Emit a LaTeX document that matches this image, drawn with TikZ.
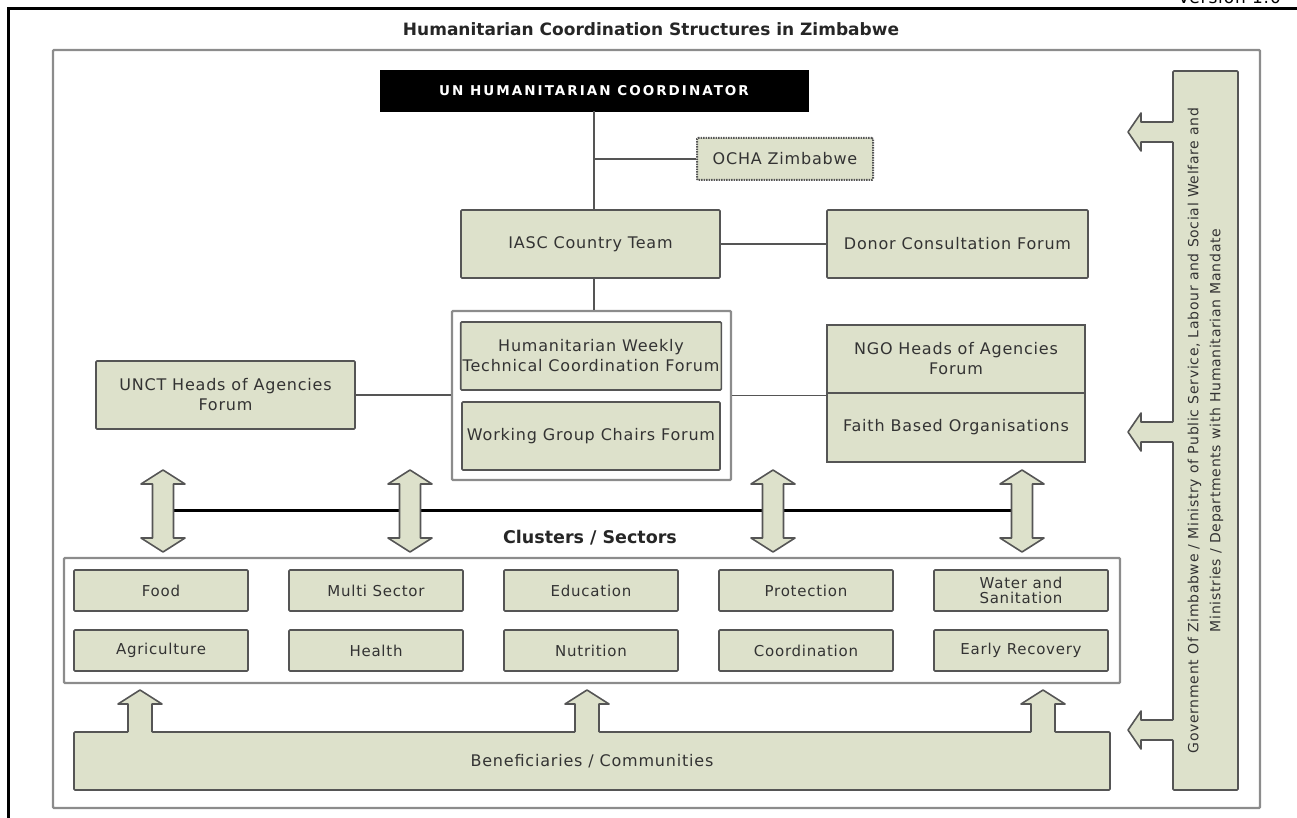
\documentclass[tikz,border=0pt]{standalone}
\usepackage{fontspec}
\setmainfont{DejaVu Sans}
\newfontfamily\boxfont[LetterSpace=5]{DejaVu Sans}
\newfontfamily\capsfont[LetterSpace=15]{DejaVu Sans}
\definecolor{clusterfill}{RGB}{221,225,203}
\definecolor{edgegray}{RGB}{85,85,85}
\definecolor{framegray}{RGB}{140,140,140}
\tikzset{
  orgbox/.style={draw=edgegray, line width=1.6pt, fill=clusterfill, rounded corners=1pt,
    align=center, inner sep=2pt, text=black!80, font={\boxfont\fontsize{16}{20}\selectfont}},
  sectorbox/.style={orgbox, minimum width=174pt, minimum height=41pt, font={\boxfont\fontsize{15}{15}\selectfont}},
  groupframe/.style={draw=framegray, line width=2.2pt, rounded corners=1pt},
  link/.style={draw=edgegray, line width=1.8pt},
  blockarrow/.style={draw=edgegray, line width=1.6pt, fill=clusterfill, line join=round}
}
\begin{document}
\begin{tikzpicture}[x=1pt,y=-1pt]
\useasboundingbox (0,0) rectangle (1297,818);

% page frame and heading
\draw[line width=3pt] (8,822) -- (8,9) -- (1300,9);
\node[anchor=base west, inner sep=0pt, font={\boxfont\fontsize{17}{20}\selectfont}] (version) at (1178,4) {Version 1.0};
\node[font={\bfseries\fontsize{17}{20}\selectfont}, text=black!85] (title) at (651,29) {Humanitarian Coordination Structures in Zimbabwe};
\draw[groupframe] (53,50) rectangle (1260,808);

% top of the structure
\node[fill=black, draw=black, minimum width=428pt, minimum height=41pt, text=white,
  font={\capsfont\bfseries\fontsize{13.5}{16}\selectfont}] (uhc) at (594,90.5) {UN HUMANITARIAN COORDINATOR};
\node[orgbox, draw=edgegray, dash pattern=on 1.5pt off 1pt, line width=2pt,
  minimum width=176pt, minimum height=42pt] (ocha) at (785,159) {OCHA Zimbabwe};
\node[orgbox, minimum width=259pt, minimum height=68pt] (iasc) at (590.5,244) {IASC Country Team};
\node[orgbox, minimum width=261pt, minimum height=68pt] (donor) at (957.5,244) {Donor Consultation Forum};

% forums
\node[groupframe, fill=white, minimum width=279pt, minimum height=169pt] (grp) at (591.5,395.5) {};
\node[orgbox, minimum width=258pt, minimum height=68pt] (hwtc) at (591,356) {Humanitarian Weekly\\Technical Coordination Forum};
\node[orgbox, minimum width=258pt, minimum height=68pt] (wgcf) at (591,436) {Working Group Chairs Forum};
\node[orgbox, minimum width=259pt, minimum height=68pt] (unct) at (225.5,395) {UNCT Heads of Agencies\\Forum};
\node[orgbox, rounded corners=0pt, minimum width=258pt, minimum height=68pt] (ngo) at (956,359) {NGO Heads of Agencies\\Forum};
\node[orgbox, rounded corners=0pt, minimum width=258pt, minimum height=69pt] (fbo) at (956,427.5) {Faith Based Organisations};

% connectors
\draw[link] (uhc.south -| 594,0) -- (594,210);
\draw[link] (ocha.west) -- (ocha.west -| 594,0);
\draw[link] (iasc.east) -- (donor.west);
\draw[link] (iasc.south -| 594,0) -- (grp.north -| 594,0);
\draw[link] (unct.east) -- (unct.east -| grp.west);
\draw[link] (grp.east) -- (grp.east -| fbo.west);

% double arrows on a bar
\foreach \x [count=\i] in {163,410,773,1022}
  \coordinate (dbl\i) at (\x,510);
\draw[line width=3pt] (dbl1) -- (dbl4);
\foreach \x in {163,410,773,1022}
  \draw[blockarrow] (\x,470) -- (\x+22,484) -- (\x+10.5,484) -- (\x+10.5,538) -- (\x+22,538)
    -- (\x,552) -- (\x-22,538) -- (\x-10.5,538) -- (\x-10.5,484) -- (\x-22,484) -- cycle;

% clusters
\node[font={\bfseries\fontsize{17.5}{20}\selectfont}, text=black!85] (sectors) at (590,538) {Clusters / Sectors};
\draw[groupframe] (64,558) rectangle (1120,683);
\foreach \name [count=\i] in {Food, Multi Sector, Education, Protection, {Water and\\Sanitation}}
  \node[sectorbox] (top\i) at ({161+215*(\i-1)},590.5) {\name};
\foreach \name [count=\i] in {Agriculture, Health, Nutrition, Coordination, Early Recovery}
  \node[sectorbox] (low\i) at ({161+215*(\i-1)},650.5) {\name};

% beneficiaries with arrows up
\node[orgbox, minimum width=1036pt, minimum height=58pt] (benef) at (592,761) {Beneficiaries / Communities};
\foreach \x in {140,587,1043} {
  \fill[clusterfill] (\x-12,734) -- (\x-12,704) -- (\x-22,704) -- (\x,690) -- (\x+22,704) -- (\x+12,704) -- (\x+12,734) -- cycle;
  \draw[blockarrow, fill=none] (\x-12,732) -- (\x-12,704) -- (\x-22,704) -- (\x,690) -- (\x+22,704) -- (\x+12,704) -- (\x+12,732);
}

% government bar with arrows left
\node[orgbox, rotate=90, minimum width=719pt, minimum height=65pt, inner sep=0pt,
  font={\boxfont\fontsize{14}{22}\selectfont}] (gov) at (1205.5,430.5)
  {Government Of Zimbabwe / Ministry of Public Service, Labour and Social Welfare and\\Ministries / Departments with Humanitarian Mandate};
\foreach \y in {132,432,730} {
  \fill[clusterfill] (1174.5,\y-10) -- (1141,\y-10) -- (1141,\y-19) -- (1128,\y) -- (1141,\y+19) -- (1141,\y+10) -- (1174.5,\y+10) -- cycle;
  \draw[blockarrow, fill=none] (1173,\y-10) -- (1141,\y-10) -- (1141,\y-19) -- (1128,\y) -- (1141,\y+19) -- (1141,\y+10) -- (1173,\y+10);
}
\end{tikzpicture}
\end{document}
